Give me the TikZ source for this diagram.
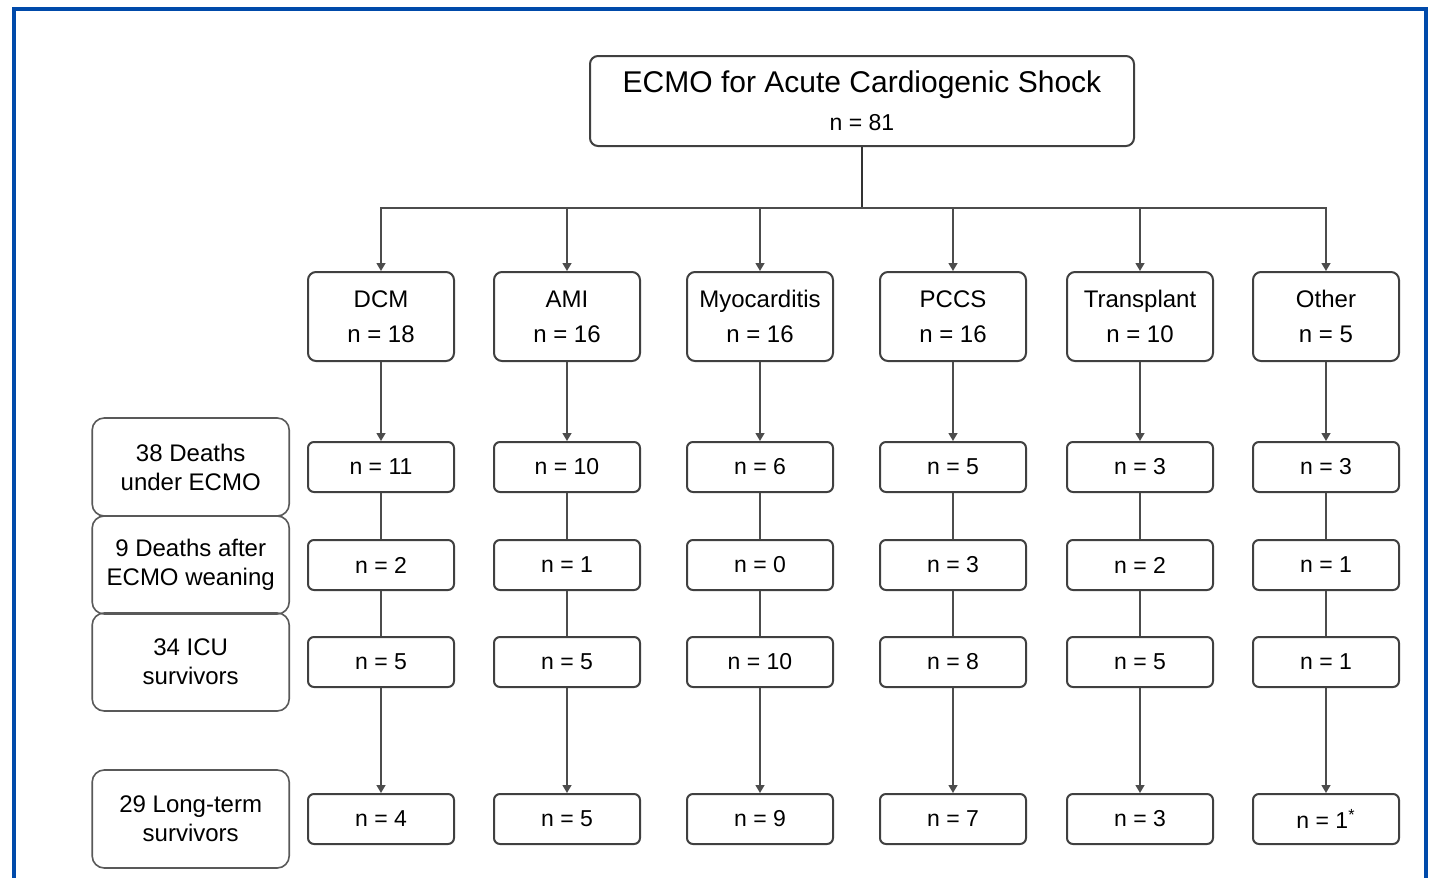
\documentclass[tikz,border=0pt]{standalone}
\usepackage{fontspec}
\setmainfont{Liberation Sans}
\usepackage{tikz}
\usetikzlibrary{positioning,arrows.meta}
\definecolor{frameblue}{RGB}{0,74,170}

\begin{document}
\begin{tikzpicture}[x=0.5pt,y=-0.5pt]
  \tikzset{TitleStyle/.style = {
    shape          = rectangle,
    rounded corners = 4pt,
    draw           = black!75,
    line width     = 1pt,
    align          = center,
    inner sep      = 0pt,
    minimum width  = 272pt,
    minimum height = 45pt,
    font           = \fontsize{15}{19}\selectfont
    }
  }
  \tikzset{GroupStyle/.style = {
    shape          = rectangle,
    rounded corners = 4pt,
    draw           = black!75,
    line width     = 1pt,
    align          = center,
    inner sep      = 0pt,
    minimum width  = 73pt,
    minimum height = 44.5pt,
    font           = \fontsize{12}{17.5}\selectfont
    }
  }
  \tikzset{CountStyle/.style = {
    shape          = rectangle,
    rounded corners = 3pt,
    draw           = black!75,
    line width     = 1pt,
    inner sep      = 0pt,
    minimum width  = 73pt,
    minimum height = 25pt,
    font           = \fontsize{11.5}{14}\selectfont
    }
  }
  \tikzset{SideStyle/.style = {
    shape          = rectangle,
    rounded corners = 6pt,
    draw           = black!65,
    line width     = 0.8pt,
    align          = center,
    inner sep      = 0pt,
    minimum width  = 98.5pt,
    minimum height = 49pt,
    font           = \fontsize{12}{14.5}\selectfont
    }
  }
  \tikzset{EdgeStyle/.style = {
    draw           = black!70,
    line width     = 0.7pt
    }
  }
  \tikzset{ArrowStyle/.style = {
    EdgeStyle,
    -{Triangle[length=4pt,width=4.5pt]}
    }
  }

  \useasboundingbox (0,0) rectangle (1432,878);
  \draw[frameblue, line width=2pt] (14,878) -- (14,9) -- (1426,9) -- (1426,878);

  \node[TitleStyle](A1) at (862,101) {ECMO for Acute Cardiogenic Shock\\\fontsize{11.5}{13}\selectfont n = 81};

  \node[GroupStyle](B1) at (381,316.5) {DCM\\n = 18};
  \node[GroupStyle](B2) at (567,316.5) {AMI\\n = 16};
  \node[GroupStyle](B3) at (760,316.5) {Myocarditis\\n = 16};
  \node[GroupStyle](B4) at (953,316.5) {PCCS\\n = 16};
  \node[GroupStyle](B5) at (1140,316.5) {Transplant\\n = 10};
  \node[GroupStyle](B6) at (1326,316.5) {Other\\n = 5};

  \node[CountStyle](C1) at (381,467) {n = 11};
  \node[CountStyle](C2) at (567,467) {n = 10};
  \node[CountStyle](C3) at (760,467) {n = 6};
  \node[CountStyle](C4) at (953,467) {n = 5};
  \node[CountStyle](C5) at (1140,467) {n = 3};
  \node[CountStyle](C6) at (1326,467) {n = 3};

  \node[CountStyle](D1) at (381,565) {n = 2};
  \node[CountStyle](D2) at (567,565) {n = 1};
  \node[CountStyle](D3) at (760,565) {n = 0};
  \node[CountStyle](D4) at (953,565) {n = 3};
  \node[CountStyle](D5) at (1140,565) {n = 2};
  \node[CountStyle](D6) at (1326,565) {n = 1};

  \node[CountStyle](E1) at (381,662) {n = 5};
  \node[CountStyle](E2) at (567,662) {n = 5};
  \node[CountStyle](E3) at (760,662) {n = 10};
  \node[CountStyle](E4) at (953,662) {n = 8};
  \node[CountStyle](E5) at (1140,662) {n = 5};
  \node[CountStyle](E6) at (1326,662) {n = 1};

  \node[CountStyle](F1) at (381,819) {n = 4};
  \node[CountStyle](F2) at (567,819) {n = 5};
  \node[CountStyle](F3) at (760,819) {n = 9};
  \node[CountStyle](F4) at (953,819) {n = 7};
  \node[CountStyle](F5) at (1140,819) {n = 3};
  \node[CountStyle](F6) at (1326,819) {n = 1\textsuperscript{*}};

  \node[SideStyle, left=8.5pt of C1](C0) {38 Deaths\\under ECMO};
  \node[SideStyle, left=8.5pt of D1](D0) {9 Deaths after\\ECMO weaning};
  \node[SideStyle, left=8.5pt of E1](E0) {34 ICU\\survivors};
  \node[SideStyle, left=8.5pt of F1](F0) {29 Long-term\\survivors};

  \coordinate (J) at (A1.south |- 0,208);
  \draw[EdgeStyle, line width=1.1pt, draw=black!80](A1) -- (J);
  \draw[ArrowStyle](J) -| (B1);
  \draw[ArrowStyle](J) -| (B2);
  \draw[ArrowStyle](J) -| (B3);
  \draw[ArrowStyle](J) -| (B4);
  \draw[ArrowStyle](J) -| (B5);
  \draw[ArrowStyle](J) -| (B6);

  \draw[ArrowStyle](B1) -- (C1);
  \draw[ArrowStyle](B2) -- (C2);
  \draw[ArrowStyle](B3) -- (C3);
  \draw[ArrowStyle](B4) -- (C4);
  \draw[ArrowStyle](B5) -- (C5);
  \draw[ArrowStyle](B6) -- (C6);

  \draw[EdgeStyle](C1) -- (D1);
  \draw[EdgeStyle](C2) -- (D2);
  \draw[EdgeStyle](C3) -- (D3);
  \draw[EdgeStyle](C4) -- (D4);
  \draw[EdgeStyle](C5) -- (D5);
  \draw[EdgeStyle](C6) -- (D6);

  \draw[EdgeStyle](D1) -- (E1);
  \draw[EdgeStyle](D2) -- (E2);
  \draw[EdgeStyle](D3) -- (E3);
  \draw[EdgeStyle](D4) -- (E4);
  \draw[EdgeStyle](D5) -- (E5);
  \draw[EdgeStyle](D6) -- (E6);

  \draw[ArrowStyle](E1) -- (F1);
  \draw[ArrowStyle](E2) -- (F2);
  \draw[ArrowStyle](E3) -- (F3);
  \draw[ArrowStyle](E4) -- (F4);
  \draw[ArrowStyle](E5) -- (F5);
  \draw[ArrowStyle](E6) -- (F6);

\end{tikzpicture}
\end{document}
